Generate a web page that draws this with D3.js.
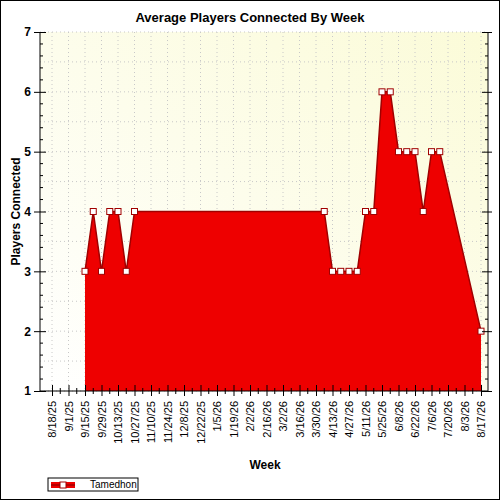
<!DOCTYPE html>
<html><head><meta charset="utf-8">
<script src="https://cdn.jsdelivr.net/npm/d3@7"></script>
<style>body{margin:0;background:#fff}text{font-family:Arial,"Liberation Sans",sans-serif}</style>
</head><body><div id="app"></div>
<script>
const dates = ['9/15/25','9/22/25','9/29/25','10/6/25','10/13/25','10/20/25','10/27/25','4/6/26','4/13/26','4/20/26','4/27/26','5/4/26','5/11/26','5/18/26','5/25/26','6/1/26','6/8/26','6/15/26','6/22/26','6/29/26','7/6/26','7/13/26','8/17/26'];
const players = [3,4,3,4,4,3,4,4,3,3,3,3,4,4,6,6,5,5,5,4,5,5,2];
const yTicks = [1,2,3,4,5,6,7];

const parse = d3.timeParse('%m/%d/%y');
const fmt = d => `${d.getMonth()+1}/${d.getDate()}/${String(d.getFullYear()).slice(2)}`;
const data = dates.map((d, i) => ({date: parse(d), v: players[i]}));

const W = 500, H = 500, L = 40, R = 488, T = 32, B = 391;
const svg = d3.select('#app').append('svg').attr('width', W).attr('height', H);
svg.append('rect').attr('x', 0.5).attr('y', 0.5).attr('width', W - 1).attr('height', H - 1)
  .attr('fill', '#fff').attr('stroke', '#000');

const defs = svg.append('defs');
const gr = defs.append('linearGradient').attr('id', 'bg').attr('x1', 0).attr('y1', 1).attr('x2', 1).attr('y2', 0);
gr.append('stop').attr('offset', 0).attr('stop-color', '#ffffff');
gr.append('stop').attr('offset', 1).attr('stop-color', '#fbfbd8');

const start = parse('8/18/25'), end = parse('8/17/26');
const x = d3.scaleTime().domain([start, end]).range([52, 481]);
const y = d3.scaleLinear().domain([1, 7]).range([B, T]);

svg.append('rect').attr('x', L).attr('y', T).attr('width', R - L).attr('height', B - T).attr('fill', 'url(#bg)');

const weeks = d3.timeWeek.every(1).range(start, d3.timeDay.offset(end, 1)).map(d => d3.timeDay.offset(d, 1));
const allWeeks = d3.range(53).map(i => d3.timeDay.offset(start, i * 7));
const labelWeeks = allWeeks.filter((d, i) => i % 2 === 0);

// grid
const grid = svg.append('g').attr('stroke', '#c8c8c8').attr('stroke-dasharray', '1,3');
labelWeeks.forEach(d => grid.append('line').attr('x1', x(d)).attr('x2', x(d)).attr('y1', T).attr('y2', B));
d3.range(1, 7.01, 0.5).forEach(v => grid.append('line').attr('x1', L).attr('x2', R).attr('y1', y(v)).attr('y2', y(v)));

// area
const area = d3.area().x(d => x(d.date)).y0(B).y1(d => y(d.v));
svg.append('path').datum(data).attr('d', area).attr('fill', '#ee0000');
svg.append('path').datum(data).attr('d', d3.line().x(d => x(d.date)).y(d => y(d.v)))
  .attr('fill', 'none').attr('stroke', '#a00000').attr('stroke-width', 1.5);
svg.selectAll('.m').data(data.filter((d, i) => i < 7 || i > 6)).enter().append('rect')
  .attr('x', d => x(d.date) - 3).attr('y', d => y(d.v) - 3).attr('width', 6).attr('height', 6)
  .attr('fill', '#fff').attr('stroke', '#a00000');

// axes
svg.append('line').attr('x1', L).attr('x2', L).attr('y1', T).attr('y2', B).attr('stroke', '#000');
svg.append('line').attr('x1', R).attr('x2', R).attr('y1', T).attr('y2', B).attr('stroke', '#000');
svg.append('line').attr('x1', L).attr('x2', R).attr('y1', B).attr('y2', B).attr('stroke', '#000');
const ya = svg.append('g').attr('transform', `translate(${L},0)`)
  .call(d3.axisLeft(y).tickValues(yTicks).tickFormat(d3.format('d')).tickSize(6).tickSizeOuter(0));
ya.select('.domain').remove();
ya.selectAll('text').attr('font-size', 12).attr('font-weight', 'bold').attr('fill', '#000');
ya.selectAll('.tick line').attr('x2', 6).attr('x1', -6);
const yr = svg.append('g').attr('transform', `translate(${R},0)`)
  .call(d3.axisRight(y).tickValues(yTicks).tickFormat('').tickSizeOuter(0));
yr.select('.domain').remove();
yr.selectAll('.tick line').attr('x1', -6).attr('x2', 4);
const yMinor = d3.range(1.2, 7, 0.2).filter(v => Math.abs(v - Math.round(v)) > 0.05);
yMinor.forEach(v => {
  svg.append('line').attr('x1', L).attr('x2', L + 3).attr('y1', y(v)).attr('y2', y(v)).attr('stroke', '#000');
  svg.append('line').attr('x1', R - 3).attr('x2', R).attr('y1', y(v)).attr('y2', y(v)).attr('stroke', '#000');
});

const xa = svg.append('g').attr('transform', `translate(0,${B})`)
  .call(d3.axisBottom(x).tickValues(labelWeeks).tickFormat(fmt).tickSize(6).tickSizeOuter(0));
xa.select('.domain').remove();
xa.selectAll('.tick line').attr('y1', -6).attr('y2', 5);
xa.selectAll('text').attr('font-size', 11).attr('fill', '#000')
  .attr('transform', 'rotate(-90)').attr('text-anchor', 'end').attr('x', -10).attr('y', 0).attr('dy', '0.35em');
allWeeks.filter((d, i) => i % 2 === 1).forEach(d =>
  svg.append('line').attr('x1', x(d)).attr('x2', x(d)).attr('y1', B - 3).attr('y2', B + 3).attr('stroke', '#000'));

svg.append('text').attr('x', 250).attr('y', 22).attr('text-anchor', 'middle')
  .attr('font-size', 13).attr('font-weight', 'bold').text('Average Players Connected By Week');
svg.append('text').attr('x', 265).attr('y', 469).attr('text-anchor', 'middle')
  .attr('font-size', 12).attr('font-weight', 'bold').text('Week');
svg.append('text').attr('transform', `translate(20,${(T + B) / 2}) rotate(-90)`).attr('text-anchor', 'middle')
  .attr('font-size', 12).attr('font-weight', 'bold').text('Players Connected');

// legend
const lg = svg.append('g').attr('transform', 'translate(48,478)');
lg.append('rect').attr('width', 90).attr('height', 13).attr('fill', '#fff').attr('stroke', '#000');
lg.append('rect').attr('x', 3).attr('y', 4).attr('width', 24).attr('height', 6).attr('fill', '#ee0000');
lg.append('line').attr('x1', 3).attr('x2', 27).attr('y1', 7).attr('y2', 7).attr('stroke', '#a00000').attr('stroke-width', 1.5);
lg.append('rect').attr('x', 12).attr('y', 4).attr('width', 6).attr('height', 6).attr('fill', '#fff').attr('stroke', '#a00000');
lg.append('text').attr('x', 42).attr('y', 10).attr('font-size', 10).text('Tamedhon');
</script></body></html>
